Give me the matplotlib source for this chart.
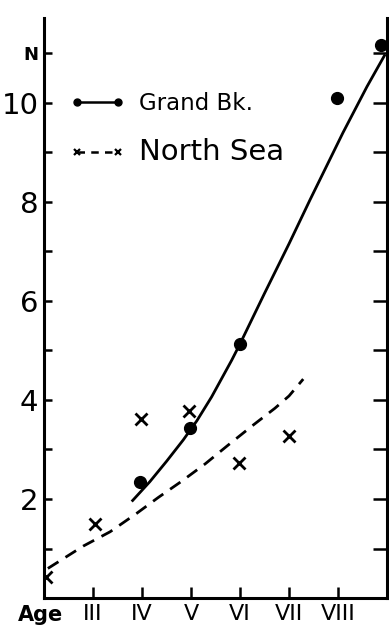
import matplotlib
matplotlib.use("Agg")
import matplotlib.pyplot as plt
from matplotlib.lines import Line2D

# Grand Bank observed points (age, N)
gb_age = [3.96, 4.98, 6.0, 7.98, 8.88]
gb_n = [2.34, 3.43, 5.13, 10.1, 11.17]
# Grand Bank fitted curve
gb_curve_age = [3.79, 4.16, 4.5, 4.84, 5.12, 5.42, 5.83, 6.0, 6.5, 7.0, 7.43,
                8.1, 8.59, 8.96]
gb_curve_n = [1.95, 2.35, 2.76, 3.19, 3.58, 4.06, 4.8, 5.13, 6.15, 7.15, 8.04,
              9.39, 10.32, 10.97]

# North Sea observed points
ns_age = [2.04, 3.04, 3.98, 4.96, 5.98, 7.0]
ns_n = [0.42, 1.5, 3.62, 3.77, 2.72, 3.27]
# North Sea fitted curve
ns_curve_age = [2.08, 2.8, 3.35, 3.89, 4.33, 4.81, 5.29, 5.76, 6.24, 6.71,
                7.0, 7.29]
ns_curve_n = [0.6, 1.05, 1.34, 1.71, 2.03, 2.36, 2.71, 3.09, 3.47, 3.83,
              4.08, 4.42]

x_ticks = [3, 4, 5, 6, 7, 8]
x_labels = ["III", "IV", "V", "VI", "VII", "VIII"]
y_ticks = [1, 2, 3, 4, 5, 6, 7, 8, 9, 10, 11]
y_labels = ["", "2", "", "4", "", "6", "", "8", "", "10", "N"]

fig = plt.figure(figsize=(3.89, 6.29), dpi=100)
ax = fig.add_axes([0.113, 0.049, 0.882, 0.922])

ax.plot(gb_curve_age, gb_curve_n, color="black", lw=2.0,
        solid_capstyle="butt", solid_joinstyle="round")
ax.plot(gb_age, gb_n, "o", color="black", ms=8.5)
ax.plot(ns_curve_age, ns_curve_n, color="black", lw=2.0, dashes=(4.5, 3),
        dash_capstyle="butt")
ax.plot(ns_age, ns_n, "x", color="black", ms=8, mew=2.0)

ax.set_xlim(2, 9)
ax.set_ylim(0, 11.7)
ax.spines["top"].set_visible(False)
for s in ["left", "right", "bottom"]:
    ax.spines[s].set_linewidth(2.2)

ax.set_xticks(x_ticks)
ax.set_xticklabels(x_labels, fontsize=16)
ax.set_yticks(y_ticks)
ax.set_yticklabels(y_labels, fontsize=21)
for lab in ax.get_yticklabels():
    if lab.get_text() == "N":
        lab.set_fontsize(13)
        lab.set_fontweight("bold")
ax.tick_params(axis="x", direction="in", length=8, width=1.8, pad=4)
ax.tick_params(axis="y", direction="in", length=6, width=1.8, pad=4,
               right=True)
for t in ax.yaxis.get_major_ticks():
    t.tick2line.set_markersize(10)

ax.text(-0.01, -0.012, "Age", transform=ax.transAxes, ha="center", va="top",
        fontsize=15, fontweight="bold")

handles = [
    Line2D([], [], color="black", lw=1.8, marker="o", ms=5),
    Line2D([], [], color="black", lw=1.8, marker="x", ms=5, mew=1.6,
           dashes=(3, 2.5)),
]
leg = ax.legend(handles, ["Grand Bk.", "North Sea"], loc="upper left",
                bbox_to_anchor=(0.05, 0.888), frameon=False, fontsize=16.5,
                numpoints=2, handlelength=2.4, handletextpad=0.6,
                labelspacing=1.0, borderaxespad=0)
leg.get_texts()[1].set_fontsize(21)

fig.savefig("out.png", dpi=100)
